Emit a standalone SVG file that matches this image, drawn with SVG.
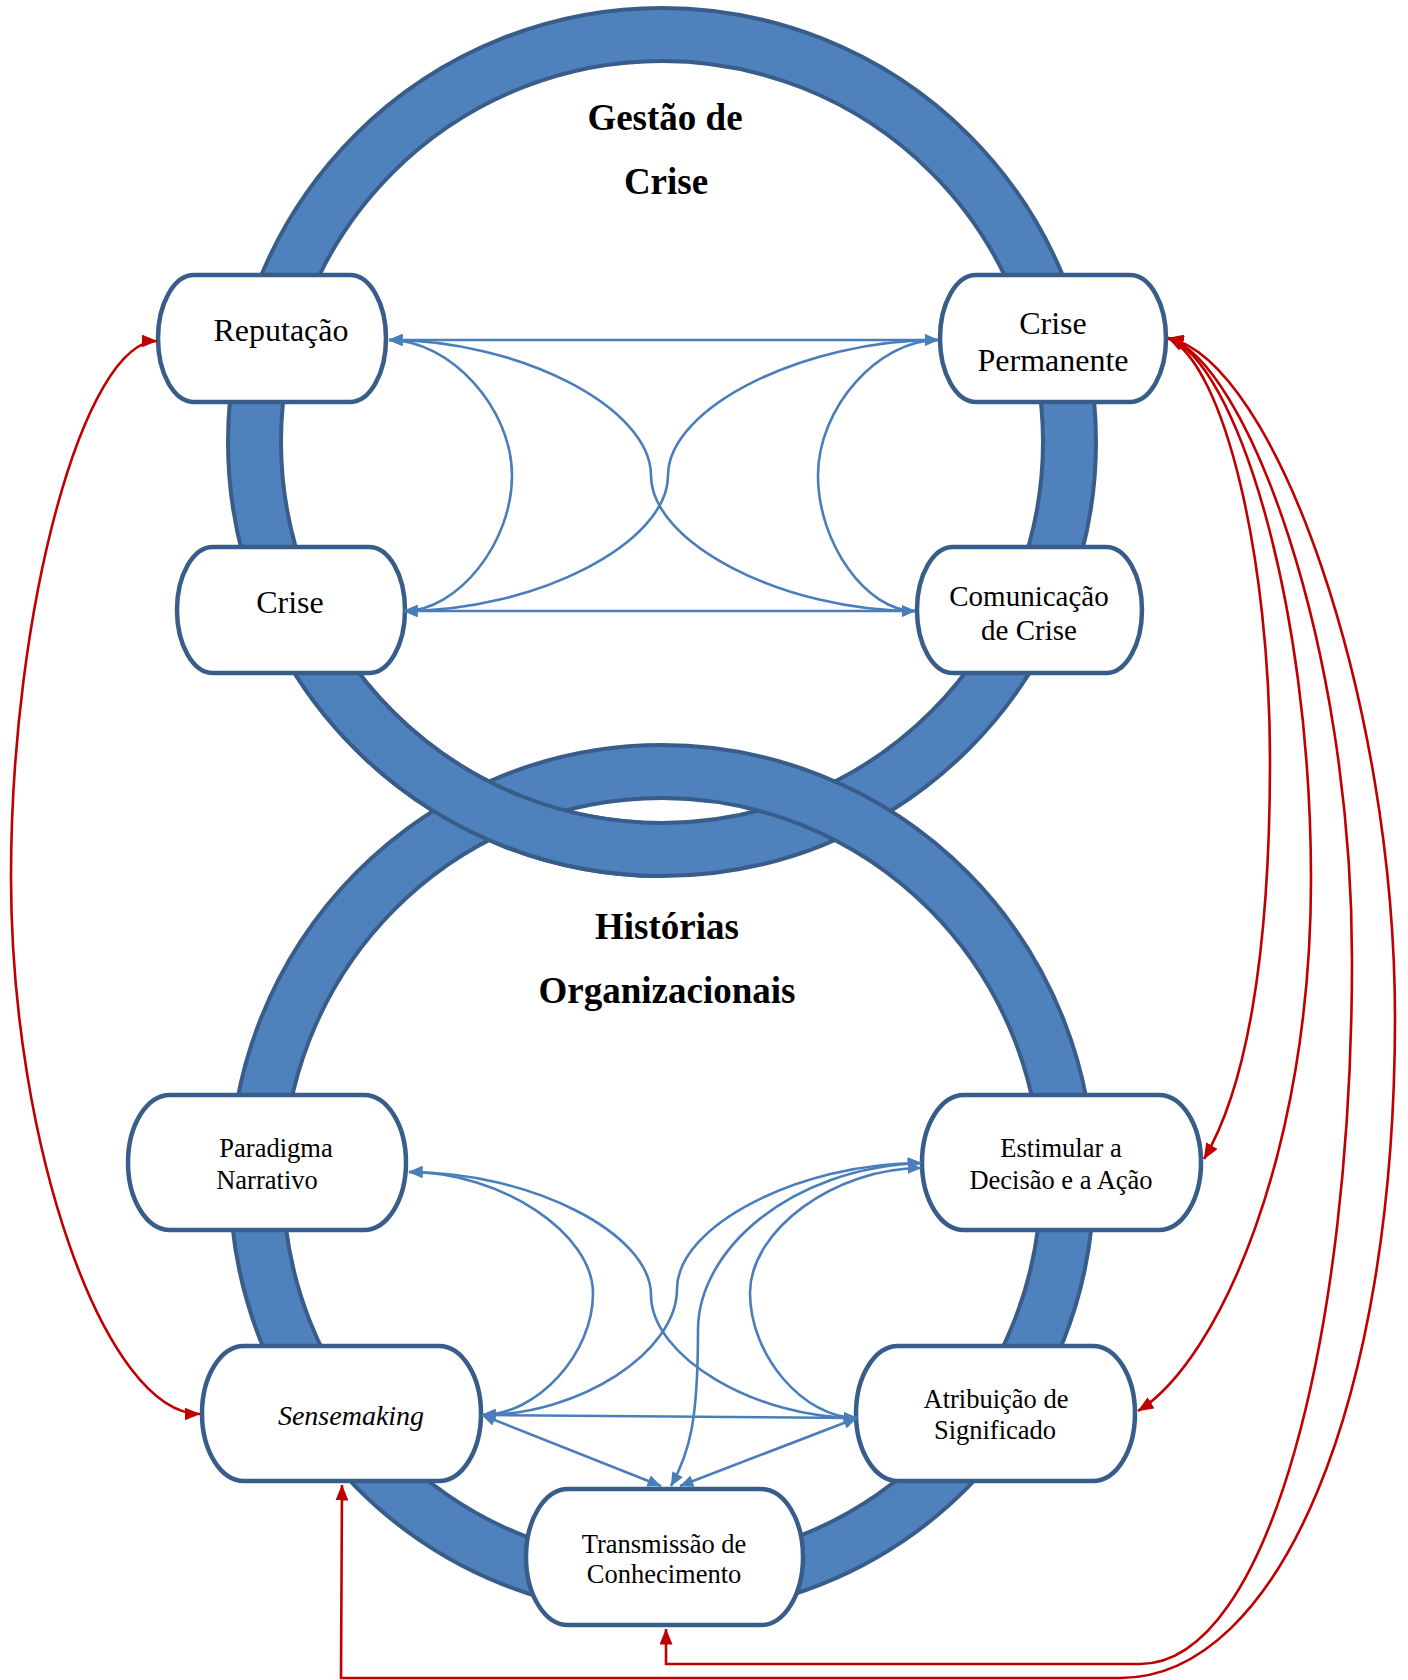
<svg xmlns="http://www.w3.org/2000/svg" xmlns:xlink="http://www.w3.org/1999/xlink" width="1408" height="1680" viewBox="0 0 1408 1680">
  <style>
    .ring { fill: #4F81BD; stroke: #385D8A; stroke-width: 4; fill-rule: evenodd; }
    .box { fill: #FFFFFF; stroke: #385D8A; stroke-width: 4.5; }
    .lbl { font-family: "Liberation Serif", "Times New Roman", serif; fill: #000000; text-anchor: middle; }
    .up { font-size: 32px; }
    .mid { font-size: 29px; }
    .lo { font-size: 26.5px; }
    .it { font-size: 28px; font-style: italic; }
    .title { font-size: 37px; font-weight: bold; }
    .bl { fill: none; stroke: #4A7EBB; stroke-width: 2.6; marker-start: url(#ab); marker-end: url(#ab); }
    .rd { fill: none; stroke: #C00000; stroke-width: 2.6; marker-start: url(#ar); marker-end: url(#ar); }
  </style>
  <defs>
    <marker id="ab" viewBox="0 0 14 12" refX="13.5" refY="6" markerWidth="14" markerHeight="12" orient="auto-start-reverse" markerUnits="userSpaceOnUse">
      <path d="M0,0 L14,6 L0,12 Z" fill="#4A7EBB"/>
    </marker>
    <marker id="ar" viewBox="0 0 16 13" refX="15.5" refY="6.5" markerWidth="16" markerHeight="13" orient="auto-start-reverse" markerUnits="userSpaceOnUse">
      <path d="M0,0 L16,6.5 L0,13 Z" fill="#C00000"/>
    </marker>
    <!-- ring bands: outer and inner ellipse, even-odd filled -->
    <path id="ringTop" class="ring" d="M228,442 A434,434 0 1 0 1096,442 A434,434 0 1 0 228,442 Z M281,442 A381,381 0 1 0 1043,442 A381,381 0 1 0 281,442 Z"/>
    <path id="ringBottom" class="ring" d="M230,1180 A432,435 0 1 0 1094,1180 A432,435 0 1 0 230,1180 Z M283,1180 A379,382 0 1 0 1041,1180 A379,382 0 1 0 283,1180 Z"/>
    <clipPath id="leftCross">
      <rect x="200" y="650" width="462" height="300"/>
    </clipPath>
  </defs>

  <rect x="0" y="0" width="1408" height="1680" fill="#FFFFFF"/>

  <!-- interlocking rings: bottom ring over top on the right, top ring over bottom on the left -->
  <g id="rings">
    <use xlink:href="#ringTop"/>
    <use xlink:href="#ringBottom"/>
    <use xlink:href="#ringTop" clip-path="url(#leftCross)"/>
  </g>

  <g id="titles">
    <text class="lbl title" x="665" y="130">Gestão de</text>
    <text class="lbl title" x="666" y="194">Crise</text>
    <text class="lbl title" x="667" y="939">Histórias</text>
    <text class="lbl title" x="667" y="1003">Organizacionais</text>
  </g>

  <g id="node-reputacao">
    <rect class="box" x="158" y="275" width="228" height="127" rx="36" ry="64"/>
    <text class="lbl up" x="281" y="341">Reputação</text>
  </g>
  <g id="node-crise">
    <rect class="box" x="177" y="547" width="228" height="126" rx="36" ry="63"/>
    <text class="lbl up" x="290" y="613">Crise</text>
  </g>
  <g id="node-crise-permanente">
    <rect class="box" x="940" y="275" width="226" height="127" rx="36" ry="64"/>
    <text class="lbl up" x="1053" y="334">Crise</text>
    <text class="lbl up" x="1053" y="371">Permanente</text>
  </g>
  <g id="node-comunicacao">
    <rect class="box" x="917" y="547" width="225" height="126" rx="36" ry="63"/>
    <text class="lbl mid" x="1029" y="606">Comunicação</text>
    <text class="lbl mid" x="1029" y="640">de Crise</text>
  </g>
  <g id="node-paradigma">
    <rect class="box" x="128" y="1095" width="278" height="135" rx="42" ry="68"/>
    <text class="lbl lo" x="276" y="1157">Paradigma</text>
    <text class="lbl lo" x="267" y="1189">Narrativo</text>
  </g>
  <g id="node-estimular">
    <rect class="box" x="922" y="1095" width="279" height="135" rx="42" ry="68"/>
    <text class="lbl lo" x="1061" y="1157">Estimular a</text>
    <text class="lbl lo" x="1061" y="1189">Decisão e a Ação</text>
  </g>
  <g id="node-sensemaking">
    <rect class="box" x="202" y="1346" width="279" height="135" rx="42" ry="68"/>
    <text class="lbl it" x="351" y="1425">Sensemaking</text>
  </g>
  <g id="node-atribuicao">
    <rect class="box" x="856" y="1346" width="279" height="135" rx="42" ry="68"/>
    <text class="lbl lo" x="996" y="1408">Atribuição de</text>
    <text class="lbl lo" x="995" y="1439">Significado</text>
  </g>
  <g id="node-transmissao">
    <rect class="box" x="526" y="1489" width="277" height="136" rx="42" ry="68"/>
    <text class="lbl lo" x="664" y="1553">Transmissão de</text>
    <text class="lbl lo" x="664" y="1583">Conhecimento</text>
  </g>

  <g id="connectors">
    <!-- crisis management links -->
    <path class="bl" d="M389,340 L938,340"/>
    <path class="bl" d="M404,611 L915,611"/>
    <path class="bl" d="M389,340 C450,340 512,408 512,475.5 C512,543 458,611 404,611"/>
    <path class="bl" d="M938,340 C878,340 818,408 818,475.5 C818,543 866,611 915,611"/>
    <path class="bl" d="M389,340 C520,340 651,408 651,475.5 C651,543 783,611 915,611"/>
    <path class="bl" d="M404,611 C536,611 668,543 668,475.5 C668,408 803,340 938,340"/>
    <!-- organisational stories links -->
    <path class="bl" d="M482,1415 L857,1418"/>
    <path class="bl" d="M482,1415 L661,1486"/>
    <path class="bl" d="M857,1418 L680,1486"/>
    <path class="bl" d="M409,1172 C501,1172 593,1233 593,1293.5 C593,1354 537,1415 482,1415"/>
    <path class="bl" d="M921,1168 C835,1168 750,1230 750,1293 C750,1355 803,1418 857,1418"/>
    <path class="bl" d="M409,1172 C530,1172 651,1233 651,1295 C651,1356 754,1418 857,1418"/>
    <path class="bl" d="M921,1163 C799,1163 677,1226 677,1289 C677,1352 580,1415 482,1415"/>
    <path class="bl" d="M921,1163 C790,1168 698,1250 698,1330 C698,1420 690,1452 671,1486"/>
    <!-- cross links between the two circles -->
    <path class="rd" d="M157,341 C84,341 11,609 11,877 C11,1146 105,1414 200,1414"/>
    <path class="rd" d="M1168,338 C1225,365 1270,560 1270,760 C1270,960 1245,1090 1204,1159"/>
    <path class="rd" d="M1168,338 C1235,360 1311,600 1311,880 C1311,1150 1220,1360 1138,1411"/>
    <path class="rd" d="M1168,338 C1245,360 1352,640 1352,960 C1352,1330 1270,1664 1140,1664 L666,1664 L666,1629"/>
    <path class="rd" d="M1168,338 C1275,360 1395,700 1395,1018 C1395,1400 1280,1678 1120,1678 L341,1678 L342,1485"/>
  </g>
</svg>
